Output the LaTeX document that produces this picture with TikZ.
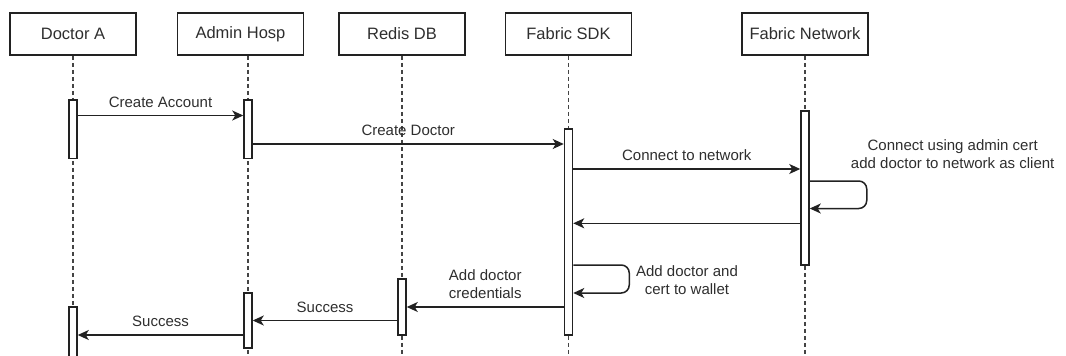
\documentclass[tikz,border=0pt]{standalone}
\usepackage{fontspec}
\setmainfont{Liberation Sans}
\usepackage{tikz}
\usetikzlibrary{arrows.meta,positioning}
\definecolor{LineDark}{HTML}{222222}
\definecolor{TextGray}{HTML}{2E2E2E}
\definecolor{LifeGray}{HTML}{444444}

\begin{document}
\begin{tikzpicture}[x=1pt,y=-1pt,
actor/.style={draw=LineDark,line width=1.5pt,minimum width=126pt,minimum height=42pt,inner sep=0pt,text=TextGray,font=\fontsize{16.5}{19}\selectfont},
lifeline/.style={draw=LifeGray,line width=1.4pt,dash pattern=on 4pt off 3pt},
actbar/.style={draw=LineDark,line width=1.5pt,fill=white,minimum width=8pt,inner sep=0pt},
msg/.style={-{Stealth[length=11pt,width=10pt,inset=3pt]},line width=1.5pt,draw=LineDark},
lbl/.style={midway,above=7.5pt,inner sep=0pt,text=TextGray,font=\fontsize{15}{18.4}\selectfont,align=center},
looptxt/.style={inner sep=0pt,text=TextGray,font=\fontsize{15}{18.4}\selectfont,align=center}
]
\useasboundingbox (0,0) rectangle (1066,356);
\node[actor] (docA) at (73,34) {Doctor A};
\node[actor] (admin) at (240.5,34) {Admin Hosp};
\node[actor] (redis) at (402,34) {Redis DB};
\node[actor] (sdk) at (568.5,34) {Fabric SDK};
\node[actor] (net) at (805,34) {Fabric Network};
\draw[lifeline] (docA.south) -- ++(0,305);
\draw[lifeline] ([xshift=7.5pt]admin.south) -- ++(0,305);
\draw[lifeline] (redis.south) -- ++(0,305);
\draw[lifeline] (sdk.south) -- ++(0,305);
\draw[lifeline] (net.south) -- ++(0,305);
\node[actbar,minimum height=58.6pt] (docact1) at (73,129.3) {};
\node[actbar,minimum height=56pt] (docact2) at (73,335) {};
\node[actbar,minimum height=58.6pt] (admact1) at (248,129.3) {};
\node[actbar,minimum height=55pt] (admact2) at (248,320.5) {};
\node[actbar,minimum height=56.3pt] (redact) at (402,306.9) {};
\node[actbar,minimum height=206pt] (sdkact) at (568.5,232) {};
\node[actbar,minimum height=154pt] (netact) at (805,188) {};
\draw[msg] (docact1.east |- 0,115.5) -- (admact1.west |- 0,115.5) node[lbl] {Create Account};
\draw[msg] (admact1.east |- 0,144) -- (sdkact.west |- 0,144) node[lbl] {Create Doctor};
\draw[msg] (sdkact.east |- 0,169) -- (netact.west |- 0,169) node[lbl] {Connect to network};
\draw[msg,rounded corners=8pt] (netact.east |- 0,181) -- ++(57,0) -- ++(0,27.5) -- (netact.east |- 0,208.5);
\node[looptxt] (netnote) at (952.7,154) {Connect using admin cert\\add doctor to network as client};
\draw[msg] (netact.west |- 0,223.3) -- (sdkact.east |- 0,223.3);
\draw[msg,rounded corners=8pt] (sdkact.east |- 0,265) -- ++(56,0) -- ++(0,28) -- (sdkact.east |- 0,293);
\node[looptxt] (walletnote) at (687,280) {Add doctor and\\cert to wallet};
\draw[msg] (sdkact.west |- 0,307) -- (redact.east |- 0,307) node[lbl] {Add doctor\\credentials};
\draw[msg] (redact.west |- 0,320.5) -- (admact2.east |- 0,320.5) node[lbl] {Success};
\draw[msg] (admact2.west |- 0,335) -- (docact2.east |- 0,335) node[lbl] {Success};
\end{tikzpicture}
\end{document}
